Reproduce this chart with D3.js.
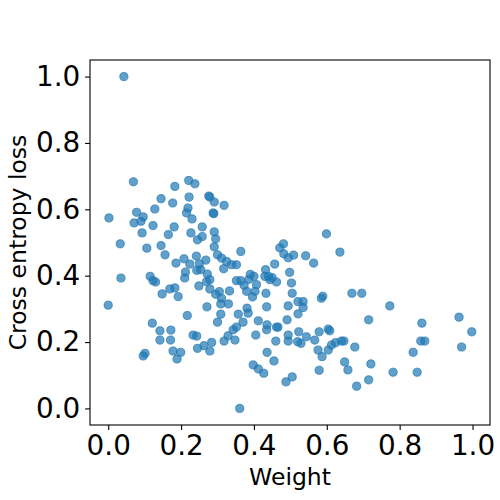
<!DOCTYPE html>
<html>
<head>
<meta charset="utf-8">
<script src="https://cdn.jsdelivr.net/npm/d3@7"></script>
<style>
  html, body { margin: 0; padding: 0; background: #fff; }
</style>
</head>
<body>
<div id="chart"></div>
<script>
// ── Data: weight (x) vs cross entropy loss (y) ──
const WEIGHT = [
  0.043, 0.069, 0.183, 0.221, 0.238, 0.145, 0.177, 0.222, 0.276, 0.279,
  0.291, 0.318, 0.002, 0.078, 0.096, 0.071, 0.090, 0.128, 0.219, 0.215,
  0.230, 0.288, 0.290, 0.123, 0.181, 0.258, 0.093, 0.165, 0.227, 0.258,
  0.245, 0.291, 0.295, 0.033, 0.106, 0.145, 0.156, 0.291, 0.300, 0.311,
  0.208, 0.186, 0.224, 0.242, 0.250, 0.268, 0.317, 0.212, 0.243, 0.254,
  0.272, 0.210, 0.035, 0.115, 0.123, 0.130, 0.279, 0.270, 0.249, 0.279,
  0.148, 0.169, 0.183, 0.192, 0.295, 0.305, 0.000, 0.271, 0.309, 0.311,
  0.217, 0.309, 0.300, 0.121, 0.142, 0.172, 0.142, 0.171, 0.233, 0.243,
  0.318, 0.284, 0.263, 0.245, 0.279, 0.178, 0.199, 0.189, 0.101, 0.096,
  0.325, 0.339, 0.352, 0.364, 0.471, 0.481, 0.482, 0.494, 0.509, 0.542,
  0.564, 0.599, 0.636, 0.457, 0.432, 0.498, 0.430, 0.440, 0.444, 0.450,
  0.390, 0.400, 0.386, 0.407, 0.352, 0.364, 0.373, 0.462, 0.503, 0.333,
  0.380, 0.403, 0.433, 0.505, 0.396, 0.669, 0.696, 0.585, 0.589, 0.330,
  0.381, 0.384, 0.357, 0.370, 0.352, 0.343, 0.329, 0.348, 0.435, 0.494,
  0.521, 0.535, 0.535, 0.521, 0.412, 0.436, 0.435, 0.462, 0.466, 0.491,
  0.405, 0.460, 0.494, 0.494, 0.523, 0.520, 0.529, 0.544, 0.567, 0.579,
  0.604, 0.608, 0.576, 0.587, 0.604, 0.613, 0.624, 0.640, 0.647, 0.677,
  0.436, 0.455, 0.398, 0.412, 0.427, 0.488, 0.505, 0.579, 0.649, 0.658,
  0.682, 0.361, 0.773, 0.715, 0.721, 0.715, 0.782, 0.848, 0.837, 0.858,
  0.869, 0.861, 0.963, 0.998, 0.970
];
const LOSS = [
  1.000, 0.683, 0.669, 0.687, 0.677, 0.632, 0.619, 0.637, 0.640, 0.637,
  0.622, 0.612, 0.574, 0.591, 0.577, 0.559, 0.564, 0.601, 0.604, 0.589,
  0.571, 0.589, 0.587, 0.551, 0.547, 0.547, 0.529, 0.524, 0.529, 0.518,
  0.508, 0.532, 0.511, 0.496, 0.483, 0.491, 0.463, 0.487, 0.463, 0.453,
  0.451, 0.438, 0.435, 0.459, 0.436, 0.447, 0.421, 0.411, 0.416, 0.418,
  0.405, 0.393, 0.393, 0.398, 0.385, 0.381, 0.388, 0.382, 0.369, 0.360,
  0.345, 0.360, 0.363, 0.337, 0.344, 0.352, 0.311, 0.306, 0.315, 0.332,
  0.280, 0.284, 0.260, 0.257, 0.234, 0.236, 0.206, 0.206, 0.221, 0.218,
  0.203, 0.199, 0.189, 0.181, 0.173, 0.173, 0.169, 0.149, 0.166, 0.158,
  0.443, 0.433, 0.433, 0.473, 0.484, 0.496, 0.466, 0.454, 0.462, 0.460,
  0.438, 0.526, 0.471, 0.435, 0.418, 0.410, 0.398, 0.398, 0.388, 0.394,
  0.404, 0.398, 0.389, 0.373, 0.385, 0.385, 0.371, 0.381, 0.378, 0.354,
  0.353, 0.353, 0.347, 0.347, 0.336, 0.347, 0.347, 0.332, 0.338, 0.315,
  0.302, 0.287, 0.284, 0.260, 0.245, 0.237, 0.219, 0.206, 0.306, 0.309,
  0.322, 0.322, 0.304, 0.285, 0.264, 0.252, 0.237, 0.245, 0.245, 0.267,
  0.221, 0.203, 0.221, 0.203, 0.231, 0.201, 0.196, 0.216, 0.206, 0.231,
  0.239, 0.234, 0.176, 0.156, 0.176, 0.191, 0.198, 0.203, 0.203, 0.185,
  0.169, 0.143, 0.131, 0.119, 0.106, 0.080, 0.095, 0.115, 0.140, 0.116,
  0.067, 0.000, 0.309, 0.267, 0.134, 0.086, 0.109, 0.109, 0.169, 0.203,
  0.203, 0.257, 0.275, 0.231, 0.185
];
const X_TICKS = [0.0, 0.2, 0.4, 0.6, 0.8, 1.0];
const Y_TICKS = [0.0, 0.2, 0.4, 0.6, 0.8, 1.0];
const X_LABEL = "Weight";
const Y_LABEL = "Cross entropy loss";

(function () {
  const W = 500, H = 500;
  const box = { left: 90, right: 490, top: 60, bottom: 425 };
  const FONT = "'DejaVu Sans', sans-serif";
  const TICK_FS = "27.8px";
  const LABEL_FS = "23.5px";

  const svg = d3.select("#chart").append("svg")
    .attr("width", W).attr("height", H);

  const x = d3.scaleLinear().domain([-0.05, 1.048]).range([box.left, box.right]);
  const y = d3.scaleLinear().domain([-0.05, 1.05]).range([box.bottom, box.top]);

  const points = WEIGHT.map((w, i) => ({ w: w, l: LOSS[i] }));

  // ── Points ───────────────────────────────────
  svg.append("g")
    .selectAll("circle")
    .data(points)
    .join("circle")
      .attr("cx", d => x(d.w))
      .attr("cy", d => y(d.l))
      .attr("r", 4.1)
      .attr("fill", "#1f77b4")
      .attr("fill-opacity", 0.7)
      .attr("stroke", "#1f77b4")
      .attr("stroke-opacity", 0.7)
      .attr("stroke-width", 1);

  // ── Axes ─────────────────────────────────────
  const xAxis = svg.append("g")
    .attr("transform", `translate(0,${box.bottom})`)
    .call(d3.axisBottom(x).tickValues(X_TICKS)
      .tickFormat(d3.format(".1f")).tickSize(4.9).tickSizeOuter(0).tickPadding(4.9));
  const yAxis = svg.append("g")
    .attr("transform", `translate(${box.left},0)`)
    .call(d3.axisLeft(y).tickValues(Y_TICKS)
      .tickFormat(d3.format(".1f")).tickSize(4.9).tickSizeOuter(0).tickPadding(4.9));

  [xAxis, yAxis].forEach(a => {
    a.select(".domain").remove();
    a.selectAll(".tick line").attr("stroke", "#000").attr("stroke-width", 1.1);
    a.selectAll("text")
      .attr("fill", "#000")
      .attr("font-family", FONT)
      .attr("font-size", TICK_FS);
  });

  // ── Frame ────────────────────────────────────
  svg.append("rect")
    .attr("x", box.left).attr("y", box.top)
    .attr("width", box.right - box.left)
    .attr("height", box.bottom - box.top)
    .attr("fill", "none")
    .attr("stroke", "#000")
    .attr("stroke-width", 1.1);

  // ── Axis labels ──────────────────────────────
  svg.append("text")
    .attr("x", (box.left + box.right) / 2).attr("y", 485)
    .attr("text-anchor", "middle")
    .attr("font-family", FONT).attr("font-size", LABEL_FS)
    .attr("fill", "#000")
    .text(X_LABEL);

  svg.append("text")
    .attr("transform", `translate(26,${(box.top + box.bottom) / 2}) rotate(-90)`)
    .attr("text-anchor", "middle")
    .attr("font-family", FONT).attr("font-size", LABEL_FS)
    .attr("fill", "#000")
    .text(Y_LABEL);
})();
</script>
</body>
</html>
